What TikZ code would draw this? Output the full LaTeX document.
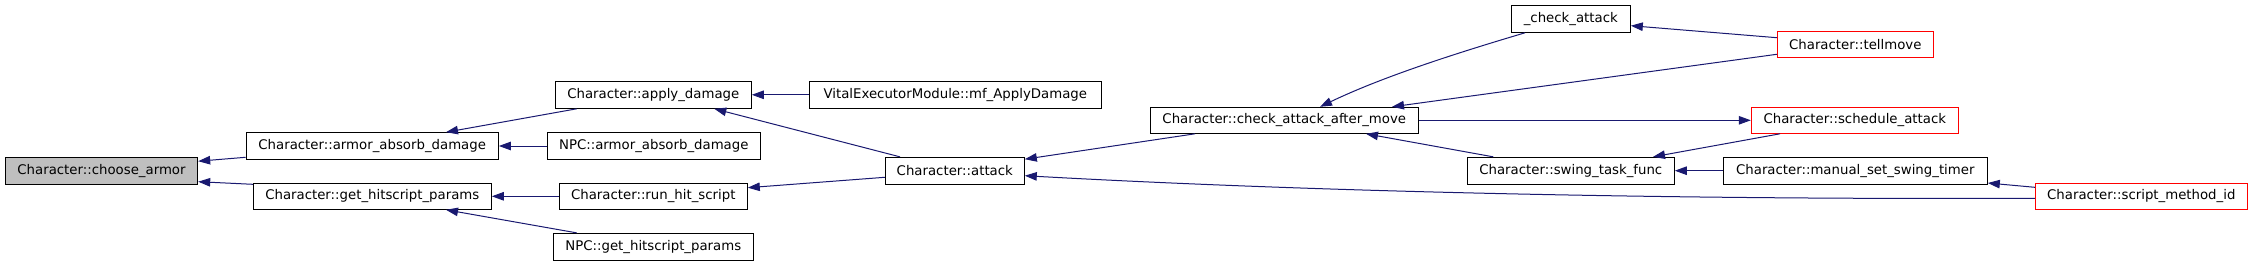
\documentclass[tikz,border=0pt]{standalone}
\usepackage{fontspec}
\setmainfont{DejaVu Sans}
\usetikzlibrary{arrows.meta}
\definecolor{edgeblue}{HTML}{191970}
\definecolor{rootgray}{HTML}{BFBFBF}
\definecolor{linkred}{HTML}{FF0000}
\begin{document}
\begin{tikzpicture}[x=1pt,y=-1pt,
  fn/.style={draw=black,line width=1pt,rectangle,inner sep=0pt,fill=white,
    font=\fontsize{13.3}{16}\selectfont},
  rootfn/.style={fn,fill=rootgray},
  redfn/.style={fn,draw=linkred},
  call/.style={draw=edgeblue,line width=1pt,
    -{Triangle[length=12pt,width=8.5pt]},edgeblue}]
\useasboundingbox (0,0) rectangle (2253,265);
% nodes
\node[rootfn,minimum width=192.4pt,minimum height=26.7pt] (choose) at (101.5,170.7) {Character::choose\_armor};
\node[fn,minimum width=252.3pt,minimum height=26.6pt] (aad) at (372.2,146) {Character::armor\_absorb\_damage};
\node[fn,minimum width=238pt,minimum height=26pt] (ghp) at (372.3,196.3) {Character::get\_hitscript\_params};
\node[fn,minimum width=196pt,minimum height=27pt] (apply) at (653.3,94.8) {Character::apply\_damage};
\node[fn,minimum width=213pt,minimum height=26.6pt] (npcaad) at (653.8,146) {NPC::armor\_absorb\_damage};
\node[fn,minimum width=188pt,minimum height=26pt] (rhs) at (653.3,196.3) {Character::run\_hit\_script};
\node[fn,minimum width=200pt,minimum height=26.7pt] (npcghp) at (653.3,246.7) {NPC::get\_hitscript\_params};
\node[fn,minimum width=292pt,minimum height=27pt] (vem) at (955.3,94.8) {VitalExecutorModule::mf\_ApplyDamage};
\node[fn,minimum width=139pt,minimum height=26.7pt] (attack) at (954.8,170.7) {Character::attack};
\node[fn,minimum width=268pt,minimum height=26pt] (cam) at (1284.3,120.3) {Character::check\_attack\_after\_move};
\node[fn,minimum width=119pt,minimum height=27pt] (chk) at (1570.8,18.8) {\_check\_attack};
\node[fn,minimum width=207pt,minimum height=26.7pt] (stf) at (1570.8,170.7) {Character::swing\_task\_func};
\node[redfn,minimum width=156pt,minimum height=25.6pt] (tell) at (1855.3,44.5) {Character::tellmove};
\node[redfn,minimum width=207pt,minimum height=26pt] (sched) at (1854.8,120.3) {Character::schedule\_attack};
\node[fn,minimum width=264pt,minimum height=26.7pt] (mss) at (1855.3,170.7) {Character::manual\_set\_swing\_timer};
\node[redfn,minimum width=212pt,minimum height=26pt] (smi) at (2141.3,196.3) {Character::script\_method\_id};
% edges
\draw[call] ([shift={(0,11.3)}]aad.west) -- ([shift={(0,-9.5)}]choose.east);
\draw[call] ([shift={(0,-12)}]ghp.west) -- ([shift={(0,11)}]choose.east);
\draw[call] ([shift={(-76.6,0)}]apply.south) -- ([shift={(73.8,0)}]aad.north);
\draw[call] (npcaad.west) -- (aad.east);
\draw[call] (rhs.west) -- (ghp.east);
\draw[call] ([shift={(-76.6,0)}]npcghp.north) -- ([shift={(73.7,0)}]ghp.south);
\draw[call] (vem.west) -- (apply.east);
\draw[call] ([shift={(-54.8,0)}]attack.north) -- ([shift={(61,0)}]apply.south);
\draw[call] ([shift={(0,6.6)}]attack.west) -- ([shift={(0,-8.6)}]rhs.east);
\draw[call] ([shift={(-89.3,0)}]cam.south) -- ([shift={(0,-11.5)}]attack.east);
\draw[call] ([shift={(0,2)}]smi.west) .. controls (1650,199.8) and (1300,191) .. ([shift={(0,5)}]attack.east);
\draw[call] ([shift={(-45.8,0)}]chk.south) .. controls (1450,55) and (1380,78) .. ([shift={(35.7,0)}]cam.north);
\draw[call] ([shift={(0,-6.8)}]tell.west) -- ([shift={(0,6.9)}]chk.east);
\draw[call] ([shift={(0,9.8)}]tell.west) -- ([shift={(107.7,0)}]cam.north);
\draw[call] (cam.east) -- (sched.west);
\draw[call] ([shift={(-74.8,0)}]sched.south) -- ([shift={(82.2,0)}]stf.north);
\draw[call] ([shift={(-77.5,0)}]stf.north) -- ([shift={(81.7,0)}]cam.south);
\draw[call] (mss.west) -- (stf.east);
\draw[call] ([shift={(0,-9)}]smi.west) -- ([shift={(0,12.3)}]mss.east);
\end{tikzpicture}
\end{document}
